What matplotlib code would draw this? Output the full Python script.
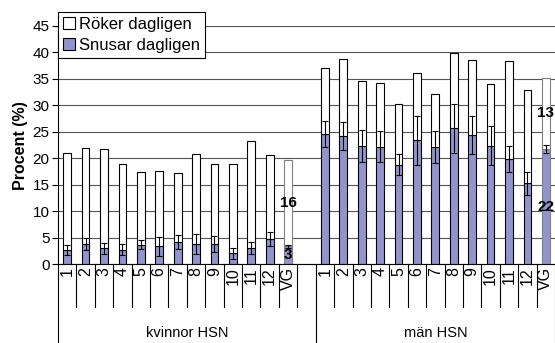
import matplotlib
matplotlib.use("Agg")
import matplotlib.pyplot as plt
import numpy as np
from matplotlib.patches import Patch

plt.rcParams["font.family"] = ["Liberation Sans", "DejaVu Sans"]

# Daily smoking / snus use per district (percent), women then men
groups = ["kvinnor HSN", "män HSN"]
districts = ["1", "2", "3", "4", "5", "6", "7", "8", "9", "10", "11", "12", "VG"]

snus_women = [2.75, 3.8, 3.0, 2.75, 3.7, 3.4, 4.25, 3.9, 3.8, 2.05, 3.05, 4.8, 3.4]
snus_women_err = [0.9, 1.15, 1.1, 1.0, 0.9, 1.8, 1.35, 1.9, 1.5, 1.05, 1.1, 1.3, 0.3]
smoke_women = [18.25, 18.1, 18.7, 16.25, 13.7, 14.3, 12.95, 16.9, 15.1, 16.85, 20.15, 15.9, 16.3]

snus_men = [24.6, 24.25, 22.4, 22.2, 18.8, 23.4, 22.1, 25.7, 24.4, 22.4, 19.9, 15.3, 21.8]
snus_men_err = [2.5, 2.6, 3.0, 2.9, 2.0, 4.7, 3.0, 4.6, 3.6, 3.7, 2.5, 2.2, 0.7]
smoke_men = [12.5, 14.55, 12.25, 12.1, 11.4, 12.7, 10.1, 14.2, 14.1, 11.7, 18.4, 17.7, 13.4]

blue = "#9494CC"

# one empty slot between the two groups
n = len(districts)
x_w = np.arange(n)
x_m = np.arange(n) + n + 1
x_all = np.concatenate([x_w, x_m])
snus = np.array(snus_women + snus_men)
snus_err = np.array(snus_women_err + snus_men_err)
smoke = np.array(smoke_women + smoke_men)
edges = ["#808080" if d == "VG" else "black" for d in districts] * 2

fig = plt.figure(figsize=(5.55, 3.43), dpi=100)
ax = fig.add_axes([0.1045, 0.2294, 0.8955, 0.6948])

width = 0.42
ax.bar(x_all, snus, width, color=blue, edgecolor=edges, linewidth=0.8, zorder=2)
ax.bar(x_all, smoke, width, bottom=snus, color="white", edgecolor=edges,
       linewidth=0.8, zorder=2)
ax.errorbar(x_all, snus, yerr=snus_err, fmt="none", ecolor="black",
            elinewidth=0.8, capsize=2, capthick=0.8, zorder=3)

# value labels on the VG bars
for xi, s, r in [(x_w[-1], snus_women[-1], smoke_women[-1]),
                 (x_m[-1], snus_men[-1], smoke_men[-1])]:
    ax.text(xi, s / 2, f"{s:.0f}", ha="center", va="center",
            fontsize=11, fontweight="bold", zorder=4)
    ax.text(xi, s + r / 2, f"{r:.0f}", ha="center", va="center",
            fontsize=11, fontweight="bold", zorder=4)

ax.set_ylim(0, 45)
ax.set_xlim(-0.5, 2 * n + 0.5)
ax.set_yticks(np.arange(0, 50, 5))
ax.yaxis.grid(True, color="#555555", linewidth=0.8, zorder=0)
ax.set_axisbelow(True)
for side in ["top", "right"]:
    ax.spines[side].set_visible(False)
ax.spines["left"].set_linewidth(0.8)
ax.spines["bottom"].set_linewidth(0.8)
ax.tick_params(axis="y", labelsize=11, length=4, width=0.8, pad=2)
ax.set_ylabel("Procent (%)", fontsize=11.5, fontweight="bold", labelpad=3)

ax.set_xticks(x_all)
ax.set_xticklabels(districts * 2, rotation=90, fontsize=11.5)
ax.tick_params(axis="x", length=0, pad=2)

# category separators below the axis
trans = ax.get_xaxis_transform()
bounds = np.arange(-0.5, 2 * n + 1, 1.0)
long_bounds = [-0.5, n + 0.5, 2 * n + 0.5]
for b in bounds:
    low = -0.33 if b in long_bounds else -0.178
    ax.plot([b, b], [0, low], color="black", linewidth=0.8,
            transform=trans, clip_on=False)

ax.text((-0.5 + n + 0.5) / 2, -0.29, groups[0], transform=trans,
        ha="center", va="center", fontsize=10.5)
ax.text((n + 0.5 + 2 * n + 0.5) / 2, -0.29, groups[1], transform=trans,
        ha="center", va="center", fontsize=10.5)

handles = [Patch(facecolor="white", edgecolor="black", linewidth=0.8),
           Patch(facecolor=blue, edgecolor="black", linewidth=0.8)]
leg = ax.legend(handles, ["Röker dagligen", "Snusar dagligen"],
                loc="upper left", bbox_to_anchor=(0.1045, 0.965),
                bbox_transform=fig.transFigure, fontsize=12, frameon=True,
                fancybox=False, framealpha=1, edgecolor="black",
                borderpad=0.3, labelspacing=0.35, handlelength=0.75,
                handleheight=0.75, handletextpad=0.2, borderaxespad=0)
leg.get_frame().set_linewidth(0.8)
leg.set_zorder(5)

fig.savefig("out.png", dpi=100)
